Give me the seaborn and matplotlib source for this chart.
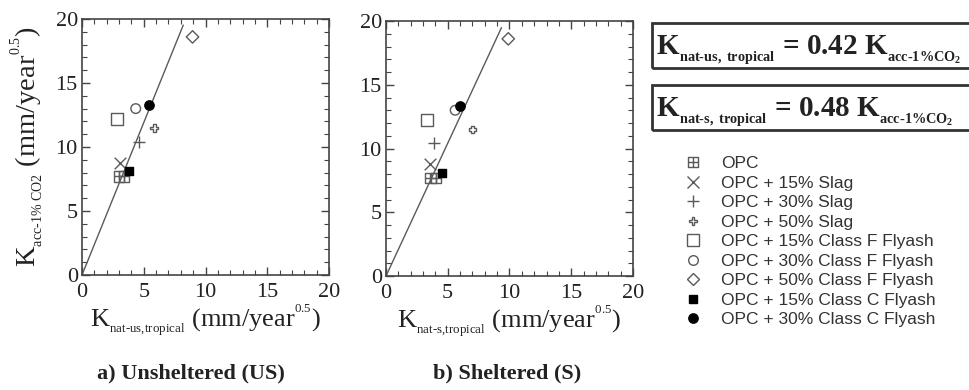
import numpy as np
import pandas as pd
import seaborn as sns
import matplotlib
matplotlib.use("Agg")
import matplotlib.pyplot as plt
from matplotlib.path import Path
from matplotlib.patches import Rectangle
from matplotlib.lines import Line2D
from matplotlib.ticker import MultipleLocator

# ---------------- data ----------------
mixes = ["OPC", "OPC + 15% Slag", "OPC + 30% Slag", "OPC + 50% Slag",
         "OPC + 15% Class F Flyash", "OPC + 30% Class F Flyash",
         "OPC + 50% Class F Flyash", "OPC + 15% Class C Flyash",
         "OPC + 30% Class C Flyash"]
point_mix = ["OPC", "OPC", "OPC + 15% Slag", "OPC + 30% Slag", "OPC + 50% Slag",
             "OPC + 15% Class F Flyash", "OPC + 30% Class F Flyash",
             "OPC + 50% Class F Flyash", "OPC + 15% Class C Flyash",
             "OPC + 30% Class C Flyash"]
k_acc = [7.7, 7.7, 8.75, 10.4, 11.5, 12.2, 13.0, 18.6, 8.1, 13.3]
k_nat_us = [3.0, 3.4, 3.1, 4.6, 5.85, 2.8, 4.35, 8.95, 3.8, 5.45]
k_nat_s = [3.6, 4.05, 3.55, 3.9, 7.0, 3.3, 5.6, 9.9, 4.55, 6.0]
fit_coef = [0.42, 0.48]
fit_x_end = [8.2, 9.35]
x_ticks = [0, 5, 10, 15, 20]
y_ticks = [0, 5, 10, 15, 20]

df = pd.DataFrame({"mix": point_mix, "k_acc": k_acc,
                   "k_us": k_nat_us, "k_s": k_nat_s})

# ---------------- style ----------------
sns.set_style("ticks")
plt.rcParams["font.family"] = ["Liberation Serif", "DejaVu Serif"]
plt.rcParams["mathtext.fontset"] = "custom"
plt.rcParams["mathtext.rm"] = "Liberation Serif"
plt.rcParams["mathtext.it"] = "Liberation Serif:italic"
plt.rcParams["mathtext.bf"] = "Liberation Serif:bold"

GRAY = "#5a5a5a"
AX = "#444444"

grid_sq = Path([(-1, -1), (1, -1), (1, 1), (-1, 1), (-1, -1),
                (0, -1), (0, 1), (-1, 0), (1, 0)],
               [Path.MOVETO, Path.LINETO, Path.LINETO, Path.LINETO, Path.CLOSEPOLY,
                Path.MOVETO, Path.LINETO, Path.MOVETO, Path.LINETO])

styles = {
    "OPC": dict(marker=grid_sq, s=55, fc="none", ec=GRAY),
    "OPC + 15% Slag": dict(marker="x", s=70, fc=None, ec=GRAY),
    "OPC + 30% Slag": dict(marker="+", s=80, fc=None, ec=GRAY),
    "OPC + 50% Slag": dict(marker="P", s=30, fc="none", ec=GRAY),
    "OPC + 15% Class F Flyash": dict(marker="s", s=75, fc="none", ec=GRAY),
    "OPC + 30% Class F Flyash": dict(marker="o", s=48, fc="none", ec=GRAY),
    "OPC + 50% Class F Flyash": dict(marker="D", s=40, fc="none", ec=GRAY),
    "OPC + 15% Class C Flyash": dict(marker="s", s=35, fc="black", ec="black"),
    "OPC + 30% Class C Flyash": dict(marker="o", s=45, fc="black", ec="black"),
}

fig = plt.figure(figsize=(9.7, 3.9), dpi=100)
ax1 = fig.add_axes([82 / 970, 1 - 275 / 390, 247 / 970, 256 / 390])
ax2 = fig.add_axes([386 / 970, 1 - 276 / 390, 247 / 970, 255 / 390])

xlabels = [r"$\mathrm{K}_{{}_{\text{nat-us,tropical}}}$ (mm/year$^{{}^{0.5}}$)",
           r"$\mathrm{K}_{{}_{\text{nat-s,tropical}}}$ (mm/year$^{{}^{0.5}}$)"]

for ax, col, coef, xend, xl in zip((ax1, ax2), ("k_us", "k_s"), fit_coef,
                                   fit_x_end, xlabels):
    fx = np.array([0.0, xend])
    sns.lineplot(x=fx, y=fx / coef, ax=ax, color=GRAY, linewidth=1.0,
                 legend=False)
    for m in mixes:
        st = styles[m]
        sub = df[df["mix"] == m]
        kw = dict(marker=st["marker"], s=st["s"], linewidth=1.0, zorder=3)
        if st["fc"] is None:
            kw["color"] = st["ec"]
        else:
            kw["facecolor"] = st["fc"]
            kw["edgecolor"] = st["ec"]
        sns.scatterplot(data=sub, x=col, y="k_acc", ax=ax, legend=False, **kw)
    ax.set_xlim(0, 20)
    ax.set_ylim(0, 20)
    ax.set_xticks(x_ticks)
    ax.set_yticks(y_ticks)
    ax.xaxis.set_minor_locator(MultipleLocator(1))
    ax.yaxis.set_minor_locator(MultipleLocator(1))
    ax.tick_params(which="both", direction="in", top=True, right=True,
                   color=AX, labelcolor="#222222")
    ax.tick_params(which="major", length=6, width=1)
    ax.tick_params(which="minor", length=3.5, width=0.8)
    ax.tick_params(axis="x", pad=6, labelsize=16)
    ax.tick_params(axis="y", pad=3, labelsize=16)
    for sp in ax.spines.values():
        sp.set_color(AX)
        sp.set_linewidth(1.2)
    ax.set_xlabel(xl, fontsize=19, labelpad=0, color="#222222")
    ax.set_ylabel("")

ax1.set_ylabel(r"$\mathrm{K}_{{}_{\text{acc-1% CO2}}}$ (mm/year$^{{}^{0.5}}$)",
               fontsize=20.5, labelpad=7, color="#222222")

# captions
fig.text(191 / 970, 1 - 378 / 390, "a) Unsheltered (US)", ha="center",
         va="baseline", fontsize=16, fontweight="bold", color="#222222")
fig.text(507 / 970, 1 - 378 / 390, "b) Sheltered (S)", ha="center",
         va="baseline", fontsize=16, fontweight="bold", color="#222222")

# equation boxes
for top, base, txt in [(23, 55, r"$\mathbf{K}_{{}_{\mathbf{nat}\text{-}\mathbf{us,\ tropical}}}$ = 0.42 $\mathbf{K}_{{}_{\mathbf{acc}\text{-}\mathbf{1\%CO}_{\mathbf{2}}}}$"),
                       (85, 117, r"$\mathbf{K}_{{}_{\mathbf{nat}\text{-}\mathbf{s,\ tropical}}}$ = 0.48 $\mathbf{K}_{{}_{\mathbf{acc}\text{-}\mathbf{1\%CO}_{\mathbf{2}}}}$")]:
    fig.add_artist(Rectangle((652 / 970, 1 - (top + 45) / 390), 340 / 970, 45 / 390,
                             transform=fig.transFigure, fill=False,
                             edgecolor="#333333", linewidth=2))
    fig.text(656 / 970, 1 - base / 390, txt, ha="left", va="baseline",
             fontsize=21, fontweight="bold", color="#222222")

# legend
handles = []
for m in mixes:
    st = styles[m]
    if st["fc"] is None:
        h = Line2D([], [], linestyle="none", marker=st["marker"],
                   markersize=np.sqrt(st["s"]), color=st["ec"], markeredgewidth=1)
    else:
        h = Line2D([], [], linestyle="none", marker=st["marker"],
                   markersize=np.sqrt(st["s"]), markerfacecolor=st["fc"],
                   markeredgecolor=st["ec"], markeredgewidth=1)
    handles.append(h)
fig.legend(handles, mixes, loc="upper left",
           bbox_to_anchor=(684 / 970, 1 - 156 / 390), frameon=False,
           prop={"family": "Liberation Sans", "size": 12.5}, labelcolor="#333333",
           labelspacing=0.25, handlelength=1.0, handletextpad=1.15,
           borderpad=0, borderaxespad=0)

fig.savefig("out.png", dpi=100)
